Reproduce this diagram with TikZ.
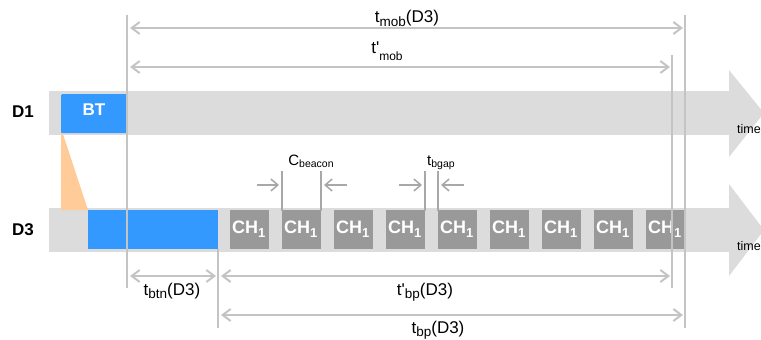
\documentclass[tikz,border=0pt]{standalone}
\usepackage{fontspec}
\setmainfont{Liberation Sans}
\usetikzlibrary{arrows.meta}
\definecolor{barc}{HTML}{DCDCDC}
\definecolor{bluec}{HTML}{3399FF}
\definecolor{chc}{HTML}{999999}
\definecolor{orangec}{HTML}{FFCC99}
\definecolor{dimc}{HTML}{C4C4C4}
\definecolor{sarc}{HTML}{A8A8A8}
\newcommand{\lsub}[3]{\raisebox{-#2pt}{\fontsize{#1}{#1}\selectfont #3}}
\newcommand{\bigfont}{\fontsize{17}{20}\selectfont}
\newcommand{\smallfont}{\fontsize{15}{18}\selectfont}
\tikzset{
  dimline/.style={draw=dimc, line width=2pt},
  dimarrow/.style={draw=dimc, line width=2pt, {Straight Barb[length=8pt,width=12pt]}-{Straight Barb[length=8pt,width=12pt]}},
  markline/.style={draw=sarc, line width=1.5pt},
  sarrow/.style={draw=sarc, line width=1.5pt, -{Straight Barb[length=7pt,width=12pt]}},
  chbox/.style={fill=chc, minimum width=39pt, minimum height=39pt, inner sep=0pt, anchor=north west},
  chtext/.style={text=white, anchor=base west, inner sep=0pt, font=\fontsize{18}{20}\selectfont\bfseries},
  lab/.style={anchor=base, inner sep=0pt, text=black},
  devlab/.style={anchor=base west, inner sep=0pt, font=\fontsize{17}{20}\selectfont\bfseries},
  timelab/.style={anchor=base west, inner sep=0pt, font=\fontsize{12.5}{15}\selectfont},
}
\begin{document}
\begin{tikzpicture}[x=1pt,y=-1pt]
\useasboundingbox (0,0) rectangle (761,340);
\clip (0,0) rectangle (761,340);

% time bars
\fill[barc] (49,91) rectangle (730,135);
\fill[barc] (729,70) -- (764,113) -- (729,157) -- cycle;
\fill[barc] (49,208) rectangle (730,252);
\fill[barc] (729,184) -- (764,230) -- (729,276) -- cycle;

% orange wedge
\fill[orangec] (61,134) -- (63,134) -- (88,210) -- (61,210) -- cycle;

% BT box
\node[fill=bluec, rounded corners=1pt, minimum width=66pt, minimum height=39pt, inner sep=0pt, anchor=north west] (bt) at (61,94) {};
\node[anchor=base, inner sep=0pt, text=white, font=\fontsize{17}{19}\selectfont\bfseries] (bttext) at (94,115.5) {BT};

% D3 blue box
\node[fill=bluec, minimum width=130pt, minimum height=39pt, inner sep=0pt, anchor=north west] (d3blue) at (88,210) {};

% CH boxes
\foreach \i in {0,...,8} {
  \pgfmathsetmacro{\xx}{230+52*\i}
  \node[chbox] (ch\i) at (\xx,210) {};
  \node[chtext] (cht\i) at (\xx+2,233) {CH\lsub{13}{4.5}{1}};
}

% device labels
\node[devlab] (d1) at (12,117) {D1};
\node[devlab] (d3) at (12,235) {D3};
\node[timelab] (time1) at (737,133) {time};
\node[timelab] (time3) at (737,250) {time};

% vertical guide lines
\coordinate (v1t) at (127,15);  \coordinate (v1b) at (127,288);
\coordinate (v2t) at (218,249); \coordinate (v2b) at (218,328);
\coordinate (v3t) at (672,55);  \coordinate (v3b) at (672,288);
\coordinate (v4t) at (685,15);  \coordinate (v4b) at (685,328);
\draw[dimline] (v1t) -- (v1b);
\draw[dimline] (v2t) -- (v2b);
\draw[dimline] (v3t) -- (v3b);
\draw[dimline] (v4t) -- (v4b);

% dimension arrows
\coordinate (m1a) at (130,28);  \coordinate (m1b) at (683,28);
\coordinate (m2a) at (130,67);  \coordinate (m2b) at (670,67);
\coordinate (n1a) at (130,276); \coordinate (n1b) at (216,276);
\coordinate (n2a) at (221,276); \coordinate (n2b) at (670,276);
\coordinate (n3a) at (221,315); \coordinate (n3b) at (683,315);
\draw[dimarrow] (m1a) -- (m1b);
\draw[dimarrow] (m2a) -- (m2b);
\draw[dimarrow] (n1a) -- (n1b);
\draw[dimarrow] (n2a) -- (n2b);
\draw[dimarrow] (n3a) -- (n3b);

% beacon / gap markers
\coordinate (c1t) at (282,171); \coordinate (c1b) at (282,211);
\coordinate (c2t) at (321,171); \coordinate (c2b) at (321,211);
\coordinate (g1t) at (425,171); \coordinate (g1b) at (425,211);
\coordinate (g2t) at (438,171); \coordinate (g2b) at (438,211);
\draw[markline] (c1t) -- (c1b);
\draw[markline] (c2t) -- (c2b);
\draw[markline] (g1t) -- (g1b);
\draw[markline] (g2t) -- (g2b);
\coordinate (ca1) at (257,185); \coordinate (ca2) at (279,185);
\coordinate (cb1) at (347,185); \coordinate (cb2) at (324,185);
\coordinate (ga1) at (399,185); \coordinate (ga2) at (422,185);
\coordinate (gb1) at (464,185); \coordinate (gb2) at (441,185);
\draw[sarrow] (ca1) -- (ca2);
\draw[sarrow] (cb1) -- (cb2);
\draw[sarrow] (ga1) -- (ga2);
\draw[sarrow] (gb1) -- (gb2);

% labels
\node[lab, font=\bigfont] (ltmob) at (407,22.5) {t\lsub{13.5}{3.5}{mob}(D3)};
\node[lab, font=\bigfont] (ltpmob) at (387,53) {t\textquotesingle\lsub{12}{7}{mob}};
\node[lab, font=\smallfont] (lcb) at (311,165) {C\lsub{10.5}{2.5}{beacon}};
\node[lab, font=\smallfont] (lbg) at (441,165) {t\lsub{10.5}{2.5}{bgap}};
\node[lab, font=\bigfont] (ltbtn) at (172,295) {t\lsub{13.5}{3.5}{btn}(D3)};
\node[lab, font=\bigfont] (ltpbp) at (425,295) {t\textquotesingle\lsub{13.5}{3.5}{bp}(D3)};
\node[lab, font=\bigfont] (ltbp) at (438,333) {t\lsub{13.5}{3.5}{bp}(D3)};
\end{tikzpicture}
\end{document}
